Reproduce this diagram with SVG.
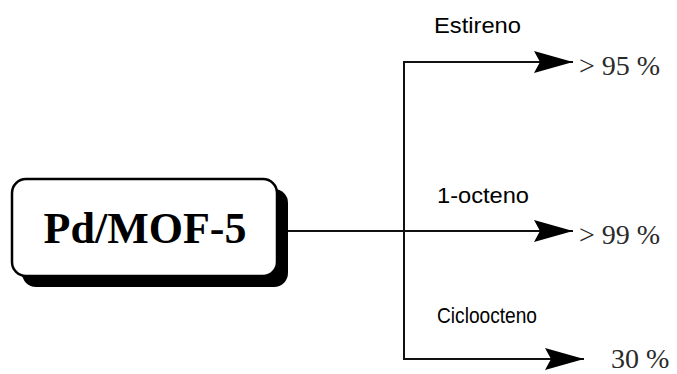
<svg xmlns="http://www.w3.org/2000/svg" width="677" height="374" viewBox="0 0 677 374">
  <style>
    .line { stroke: #111; stroke-width: 2; fill: none; }
    .label { font-family: "Liberation Sans", Arial, sans-serif; font-size: 22px; fill: #000; }
    .value { font-family: "Liberation Serif", "Times New Roman", serif; font-size: 28px; fill: #2a2a2a; }
    .title { font-family: "Liberation Serif", "Times New Roman", serif; font-size: 44px; font-weight: bold; fill: #000; }
  </style>
  <defs>
    <marker id="arrow" markerUnits="userSpaceOnUse" markerWidth="42" markerHeight="24" refX="39" refY="12" orient="auto">
      <path d="M39,12 L0,1 L6,12 L0,23 Z" fill="#000"/>
    </marker>
  </defs>
  <rect width="677" height="374" fill="#fff"/>

  <g id="catalyst">
    <rect x="22" y="189" width="266" height="98" rx="14" fill="#000"/>
    <rect x="12" y="179" width="265" height="97" rx="14" fill="#fff" stroke="#000" stroke-width="2.5"/>
    <text class="title" x="145" y="243" text-anchor="middle">Pd/MOF-5</text>
  </g>

  <g id="connectors">
    <line class="line" x1="288" y1="231" x2="404" y2="231"/>
    <line class="line" x1="404" y1="61" x2="404" y2="360"/>
    <line class="line" x1="403" y1="62" x2="573" y2="62" marker-end="url(#arrow)"/>
    <line class="line" x1="404" y1="231" x2="573" y2="231" marker-end="url(#arrow)"/>
    <line class="line" x1="403" y1="359" x2="584" y2="359" marker-end="url(#arrow)"/>
  </g>

  <g id="estireno">
    <text class="label" x="434" y="33" textLength="87" lengthAdjust="spacingAndGlyphs">Estireno</text>
    <text class="value" x="579" y="75">&gt; 95 %</text>
  </g>

  <g id="octeno">
    <text class="label" x="437" y="203" textLength="92" lengthAdjust="spacingAndGlyphs">1-octeno</text>
    <text class="value" x="579" y="244">&gt; 99 %</text>
  </g>

  <g id="ciclooctano">
    <text class="label" x="437" y="323" textLength="100" lengthAdjust="spacingAndGlyphs">Cicloocteno</text>
    <text class="value" x="611" y="368">30 %</text>
  </g>
</svg>
